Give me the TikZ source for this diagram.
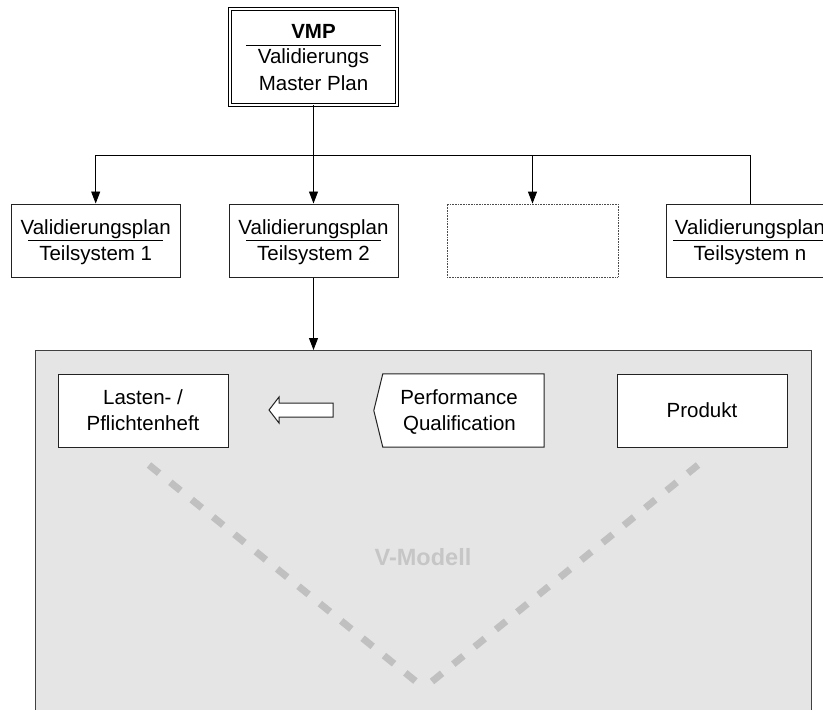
\documentclass[tikz,border=0pt]{standalone}
\usepackage{fontspec}
\setmainfont{Liberation Sans}
\usetikzlibrary{arrows.meta}
\definecolor{panelgray}{HTML}{E5E5E5}
\definecolor{paneledge}{HTML}{404040}
\definecolor{vgray}{HTML}{C0C0C0}
\definecolor{vtext}{HTML}{C6C6C6}
\definecolor{edge}{HTML}{222222}
\begin{document}
\begin{tikzpicture}[x=1pt,y=-1pt,
  txt/.style={font=\fontsize{20.5}{24}\selectfont, inner sep=0pt, anchor=base},
  box/.style={draw=edge, line width=1pt, fill=white, rectangle, inner sep=0pt,
              minimum width=169pt, minimum height=73pt},
  dotbox/.style={box, draw=black!70, line width=0.8pt, dash pattern=on 0.8pt off 0.8pt},
  plainbox/.style={fill=white, rectangle, inner sep=0pt, minimum height=73pt},
  outline/.style={draw=edge, line width=1pt, fill=white},
  conn/.style={draw=black, line width=0.9pt},
  arr/.style={conn, -{Triangle[length=12pt,width=9pt]}},
  bar/.style={draw=black, line width=1.2pt},
  vline/.style={draw=vgray, line width=7pt, dash pattern=on 13pt off 14.5pt},
  panelbox/.style={draw=paneledge, line width=1.4pt, fill=panelgray, rectangle,
              inner sep=0pt, minimum width=776pt, minimum height=420pt}
]
\path[use as bounding box, clip] (0,0) rectangle (823,710);

% master plan
\node[draw=black, double, double distance=2pt, line width=1pt, fill=white,
      inner sep=0pt, minimum width=166.5pt, minimum height=96pt] (vmp) at (313.5,56.5) {};
\node[txt] (vmpa) at (313.5,38) {\bfseries VMP};
\draw[bar] (246,45.7) -- (381,45.7);
\node[txt] (vmpb) at (313.5,63.3) {Validierungs};
\node[txt] (vmpc) at (313.5,90.5) {Master Plan};

% sub plans
\node[box] (b1) at (95.7,240.5) {};
\node[txt] (b1a) at (95.7,234) {Validierungsplan};
\draw[bar] (28,240.7) -- (163,240.7);
\node[txt] (b1b) at (95.7,260) {Teilsystem 1};

\node[box] (b2) at (313.5,240.5) {};
\node[txt] (b2a) at (313.5,234) {Validierungsplan};
\draw[bar] (246,240.7) -- (381,240.7);
\node[txt] (b2b) at (313.5,260) {Teilsystem 2};

\node[dotbox, minimum width=171pt] (b3) at (532.5,240.5) {};

\node[box, minimum width=168pt] (b4) at (750,240.5) {};
\node[txt] (b4a) at (750,234) {Validierungsplan};
\draw[bar] (673,240.7) -- (827,240.7);
\node[txt] (b4b) at (750,260) {Teilsystem n};

% panel
\node[panelbox, anchor=north west] (panel) at (35,350) {};

% connectors
\coordinate (hub) at (313.5,155);
\draw[arr] (vmp.south) -- (b2.north);
\draw[arr] (hub) -| (b1.north);
\draw[arr] (hub) -| (b3.north);
\draw[conn] (hub) -| (b4.north);
\draw[arr] (b2.south) -- (b2.south |- panel.north);

% V model
\draw[vline] (149,465) -- (424,688);
\draw[vline] (698,465) -- (424,688);
\node[txt, text=vtext, font=\bfseries\fontsize{23.5}{28}\selectfont] (vm) at (423,565) {V-Modell};

% boxes inside panel
\node[box, minimum width=170pt] (lh) at (143,410.5) {};
\node[txt] (lha) at (143,404) {Lasten- /};
\node[txt] (lhb) at (143,430) {Pflichtenheft};

\node[plainbox, minimum width=161pt] (pq) at (463.5,410.5) {};
\draw[outline] (pq.north west) -- (pq.north east) -- (pq.south east) -- (pq.south west)
  -- ([xshift=-9pt]pq.west) -- cycle;
\node[txt] (pqa) at (459,404) {Performance};
\node[txt] (pqb) at (459.5,430) {Qualification};

\node[box, minimum width=170pt] (pr) at (702,410.5) {};
\node[txt] (pra) at (702,417) {Produkt};

% block arrow
\draw[outline] (333,403) -- (279,403) -- (279,397) -- (269,410) -- (279,423)
  -- (279,417) -- (333,417) -- cycle;
\end{tikzpicture}
\end{document}
